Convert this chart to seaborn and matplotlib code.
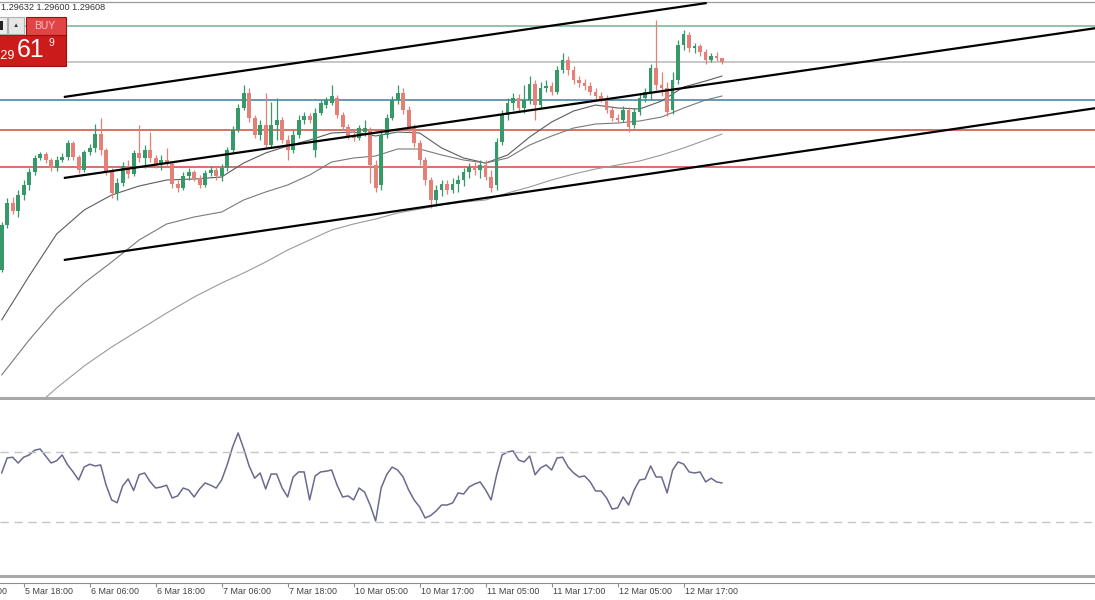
import numpy as np
import matplotlib
matplotlib.use("Agg")
import matplotlib.pyplot as plt
from matplotlib.patches import Rectangle
import seaborn as sns

# hourly GBPUSD-style bars, bar 0 = 5 Mar 14:00
opens = [1.28570, 1.28795, 1.28905, 1.28865, 1.28945, 1.28995, 1.29060, 1.29130, 1.29150, 1.29120,
         1.29080, 1.29120, 1.29135, 1.29205, 1.29135, 1.29070, 1.29160, 1.29180, 1.29250, 1.29170,
         1.29060, 1.28955, 1.29005, 1.29090, 1.29050, 1.29155, 1.29130, 1.29170, 1.29130, 1.29100,
         1.29120, 1.29100, 1.29000, 1.28980, 1.29040, 1.29060, 1.29030, 1.28995, 1.29055, 1.29070,
         1.29040, 1.29080, 1.29170, 1.29270, 1.29380, 1.29455, 1.29330, 1.29245, 1.29295, 1.29195,
         1.29295, 1.29320, 1.29220, 1.29170, 1.29245, 1.29320, 1.29340, 1.29170, 1.29355, 1.29395,
         1.29405, 1.29430, 1.29345, 1.29285, 1.29240, 1.29230, 1.29260, 1.29270, 1.29095, 1.28995,
         1.29245, 1.29330, 1.29420, 1.29455, 1.29370, 1.29280, 1.29205, 1.29120, 1.29020, 1.28920,
         1.28970, 1.29000, 1.28970, 1.29000, 1.29020, 1.29060, 1.29085, 1.29070, 1.29095, 1.29035,
         1.28995, 1.29210, 1.29345, 1.29405, 1.29430, 1.29380, 1.29420, 1.29500, 1.29395, 1.29480,
         1.29490, 1.29460, 1.29570, 1.29620, 1.29570, 1.29520, 1.29505, 1.29490, 1.29460, 1.29440,
         1.29425, 1.29370, 1.29330, 1.29320, 1.29370, 1.29295, 1.29360, 1.29430, 1.29460, 1.29580,
         1.29495, 1.29480, 1.29370, 1.29520, 1.29695, 1.29745, 1.29680, 1.29690, 1.29660, 1.29620,
         1.29640, 1.29630]
highs = [1.28810, 1.28930, 1.28935, 1.28970, 1.29020, 1.29080, 1.29145, 1.29160, 1.29160, 1.29130,
         1.29140, 1.29155, 1.29220, 1.29215, 1.29145, 1.29170, 1.29200, 1.29300, 1.29330, 1.29180,
         1.29080, 1.29030, 1.29110, 1.29120, 1.29170, 1.29295, 1.29195, 1.29260, 1.29145, 1.29145,
         1.29180, 1.29110, 1.29020, 1.29060, 1.29080, 1.29070, 1.29045, 1.29070, 1.29090, 1.29085,
         1.29100, 1.29185, 1.29290, 1.29400, 1.29495, 1.29480, 1.29345, 1.29320, 1.29455, 1.29410,
         1.29430, 1.29335, 1.29245, 1.29270, 1.29345, 1.29360, 1.29355, 1.29380, 1.29420, 1.29435,
         1.29495, 1.29445, 1.29360, 1.29300, 1.29270, 1.29295, 1.29320, 1.29285, 1.29120, 1.29270,
         1.29350, 1.29440, 1.29495, 1.29480, 1.29390, 1.29300, 1.29220, 1.29135, 1.29035, 1.28995,
         1.29020, 1.29020, 1.29030, 1.29045, 1.29080, 1.29105, 1.29110, 1.29120, 1.29120, 1.29070,
         1.29230, 1.29370, 1.29430, 1.29455, 1.29450, 1.29495, 1.29540, 1.29520, 1.29510, 1.29520,
         1.29510, 1.29590, 1.29655, 1.29640, 1.29590, 1.29540, 1.29525, 1.29510, 1.29480, 1.29460,
         1.29445, 1.29390, 1.29350, 1.29390, 1.29385, 1.29380, 1.29450, 1.29480, 1.29600, 1.29820,
         1.29560, 1.29510, 1.29560, 1.29720, 1.29770, 1.29760, 1.29705, 1.29700, 1.29675, 1.29655,
         1.29660, 1.29632]
lows = [1.28560, 1.28780, 1.28850, 1.28835, 1.28920, 1.28970, 1.29045, 1.29120, 1.29105, 1.29065,
        1.29065, 1.29110, 1.29120, 1.29120, 1.29055, 1.29060, 1.29145, 1.29160, 1.29145, 1.29045,
        1.28930, 1.28920, 1.28990, 1.29030, 1.29040, 1.29110, 1.29080, 1.29110, 1.29080, 1.29070,
        1.29085, 1.28980, 1.28960, 1.28970, 1.29020, 1.29015, 1.28980, 1.28985, 1.29040, 1.29020,
        1.29015, 1.29065, 1.29160, 1.29260, 1.29370, 1.29310, 1.29230, 1.29220, 1.29180, 1.29180,
        1.29220, 1.29205, 1.29120, 1.29155, 1.29230, 1.29300, 1.29305, 1.29135, 1.29345, 1.29380,
        1.29395, 1.29330, 1.29270, 1.29225, 1.29215, 1.29220, 1.29240, 1.29005, 1.28960, 1.28970,
        1.29230, 1.29320, 1.29400, 1.29350, 1.29260, 1.29185, 1.29095, 1.28995, 1.28880, 1.28890,
        1.28940, 1.28950, 1.28955, 1.28960, 1.28990, 1.29030, 1.29045, 1.29030, 1.29020, 1.28960,
        1.28970, 1.29195, 1.29320, 1.29370, 1.29360, 1.29355, 1.29400, 1.29320, 1.29380, 1.29460,
        1.29445, 1.29450, 1.29555, 1.29545, 1.29500, 1.29485, 1.29470, 1.29445, 1.29425, 1.29410,
        1.29355, 1.29315, 1.29305, 1.29310, 1.29260, 1.29280, 1.29345, 1.29410, 1.29420, 1.29470,
        1.29440, 1.29340, 1.29350, 1.29500, 1.29670, 1.29660, 1.29655, 1.29640, 1.29600, 1.29610,
        1.29615, 1.29600]
closes = [1.28795, 1.28905, 1.28865, 1.28945, 1.28995, 1.29060, 1.29130, 1.29150, 1.29120, 1.29080,
          1.29120, 1.29135, 1.29205, 1.29135, 1.29070, 1.29160, 1.29180, 1.29250, 1.29170, 1.29060,
          1.28955, 1.29005, 1.29090, 1.29050, 1.29155, 1.29130, 1.29170, 1.29130, 1.29100, 1.29120,
          1.29100, 1.29000, 1.28980, 1.29040, 1.29060, 1.29030, 1.28995, 1.29055, 1.29070, 1.29040,
          1.29080, 1.29170, 1.29270, 1.29380, 1.29455, 1.29330, 1.29245, 1.29295, 1.29195, 1.29295,
          1.29320, 1.29220, 1.29170, 1.29245, 1.29320, 1.29340, 1.29320, 1.29355, 1.29405, 1.29420,
          1.29440, 1.29345, 1.29285, 1.29240, 1.29230, 1.29280, 1.29280, 1.29095, 1.28980, 1.29245,
          1.29330, 1.29420, 1.29455, 1.29370, 1.29280, 1.29205, 1.29120, 1.29020, 1.28920, 1.28970,
          1.29000, 1.28970, 1.29000, 1.29020, 1.29060, 1.29085, 1.29070, 1.29095, 1.29035, 1.28980,
          1.29210, 1.29345, 1.29405, 1.29430, 1.29380, 1.29420, 1.29500, 1.29395, 1.29480, 1.29490,
          1.29460, 1.29570, 1.29620, 1.29570, 1.29520, 1.29505, 1.29490, 1.29460, 1.29440, 1.29425,
          1.29370, 1.29330, 1.29320, 1.29370, 1.29285, 1.29360, 1.29430, 1.29460, 1.29580, 1.29495,
          1.29480, 1.29360, 1.29520, 1.29695, 1.29750, 1.29680, 1.29690, 1.29660, 1.29620, 1.29640,
          1.29630, 1.29608]

# oscillator (RSI) per bar
rsi = [58, 66.6, 67, 63.7, 67, 68.3, 71, 71.7, 67.7, 63.7,
       65, 68.3, 62.6, 58.6, 54, 61.4, 63, 62, 62.6, 51,
       42.6, 41, 50.6, 54.6, 48, 57, 58, 53, 49.4, 50,
       51, 43.7, 44.9, 49.4, 48.3, 44.3, 48.9, 52.3, 51, 49.4,
       54, 62.6, 72.9, 80.9, 72, 62, 55, 58, 48.9, 57.4,
       57.4, 49.4, 44.3, 55.7, 58.6, 58.6, 42.6, 56.3, 58.6, 59,
       59.7, 51, 44.3, 44.9, 42.6, 49.4, 47, 39.7, 30.6, 49.4,
       57, 61.4, 59.7, 55.7, 48.3, 42.6, 38.6, 32.3, 33.7, 36.3,
       39.7, 39.7, 40.9, 46.6, 46, 50, 51.7, 52.9, 48.3, 42.6,
       57, 68.3, 70, 70.6, 65.4, 64.3, 67.7, 57, 60.9, 62.6,
       59.7, 66.6, 67, 61.4, 58, 55.7, 56.3, 53, 47.7, 47.7,
       43.7, 37.4, 38, 44.3, 39.7, 48.3, 54, 54.6, 62, 55.7,
       55.7, 46.6, 59.7, 64.3, 63.1, 58.6, 58, 58.6, 52.9, 55,
       52.9, 52.3]

# moving averages read at these bars
ma_idx = [0, 5, 10, 15, 20, 25, 30, 35, 40, 44, 48, 52, 56, 60, 64, 68,
          72, 76, 80, 84, 88, 92, 96, 100, 104, 108, 112, 116, 120, 124, 128, 131]
ma_fast = [1.28320, 1.28540, 1.28750, 1.28870, 1.28945, 1.28990, 1.29020, 1.29025,
           1.29035, 1.29105, 1.29155, 1.29190, 1.29220, 1.29255, 1.29260, 1.29240,
           1.29260, 1.29255, 1.29180, 1.29130, 1.29105, 1.29145, 1.29235, 1.29310,
           1.29365, 1.29395, 1.29380, 1.29375, 1.29415, 1.29485, 1.29515, 1.29540]
ma_mid = [1.28045, 1.28220, 1.28380, 1.28505, 1.28610, 1.28720, 1.28800, 1.28835,
          1.28860, 1.28920, 1.28960, 1.28995, 1.29045, 1.29110, 1.29130, 1.29140,
          1.29175, 1.29175, 1.29145, 1.29120, 1.29105, 1.29130, 1.29195, 1.29240,
          1.29280, 1.29300, 1.29305, 1.29315, 1.29335, 1.29380, 1.29420, 1.29440]
ma_slow = [1.27720, 1.27860, 1.27980, 1.28090, 1.28185, 1.28270, 1.28355, 1.28435,
           1.28505, 1.28555, 1.28610, 1.28670, 1.28720, 1.28770, 1.28800, 1.28825,
           1.28855, 1.28875, 1.28895, 1.28910, 1.28920, 1.28955, 1.28985, 1.29020,
           1.29050, 1.29075, 1.29095, 1.29115, 1.29145, 1.29180, 1.29220, 1.29250]

# horizontal levels and drawn channel lines
levels = [1.29790, 1.29608, 1.29420, 1.29270, 1.29085]
level_colors = ["#74b496", "#b8b8b8", "#3f7aa3", "#cf4a3e", "#cf4a3e"]
channel_x = [(11.3, 128.2), (11.3, 199.1), (11.3, 199.1)]
channel_y = [(1.29435, 1.29905), (1.29030, 1.29780), (1.28620, 1.29380)]

tick_bars = [-8, 4, 16, 28, 40, 52, 64, 76, 88, 100, 112, 124]
tick_labels = ["5 Mar 06:00", "5 Mar 18:00", "6 Mar 06:00", "6 Mar 18:00", "7 Mar 06:00",
               "7 Mar 18:00", "10 Mar 05:00", "10 Mar 17:00", "11 Mar 05:00",
               "11 Mar 17:00", "12 Mar 05:00", "12 Mar 17:00"]

sns.set_theme(style="white")
plt.rcParams["font.family"] = ["Liberation Sans", "DejaVu Sans"]

W, H = 1095, 600
fig = plt.figure(figsize=(W / 100, H / 100), dpi=100)
fig.patch.set_facecolor("white")

xlim = (-0.3, 198.8)
ax = fig.add_axes([0, (H - 398) / H, 1, 396 / H])
ax_r = fig.add_axes([0, 24 / H, 1, 176 / H], sharex=ax)
ax_t = fig.add_axes([0, 17 / H, 1, 4 / H], sharex=ax)

# price panel
o = np.array(opens)
c = np.array(closes)
idx = np.arange(len(o))
up = c >= o
cols = np.where(up, "#35996a", "#e48078")
ax.vlines(idx, lows, highs, colors=cols, lw=0.9, zorder=3)
ax.bar(idx, np.maximum(np.abs(c - o), 0.00003), bottom=np.minimum(o, c),
       width=0.68, color=cols, linewidth=0, zorder=4)

sns.lineplot(x=ma_idx, y=ma_fast, ax=ax, color="#5c5c5c", lw=0.8, zorder=2)
sns.lineplot(x=ma_idx, y=ma_mid, ax=ax, color="#7a7a7a", lw=0.8, zorder=2)
sns.lineplot(x=ma_idx, y=ma_slow, ax=ax, color="#9a9a9a", lw=0.8, zorder=2)

for lvl, col in zip(levels, level_colors):
    ax.axhline(lvl, color=col, lw=1.1, zorder=1)

for xs, ys in zip(channel_x, channel_y):
    ax.plot(xs, ys, color="black", lw=1.6, zorder=5, solid_capstyle="butt")

ax.set_xlim(*xlim)
ax.set_ylim(1.27930, 1.29910)
ax.set_xticks([])
ax.set_yticks([])
ax.set_xlabel("")
ax.set_ylabel("")
for s in ["left", "right"]:
    ax.spines[s].set_visible(False)
ax.spines["top"].set_color("#9a9a9a")
ax.spines["top"].set_linewidth(0.9)
ax.spines["bottom"].set_color("#a8a8a8")
ax.spines["bottom"].set_linewidth(2.2)

# oscillator panel
sns.lineplot(x=idx, y=rsi, ax=ax_r, color="#6a6a8e", lw=1.1)
for lvl in [70, 30]:
    ax_r.axhline(lvl, color="#c4c4cc", lw=1.0, dashes=(6, 4))
ax_r.set_ylim(-0.86, 99.7)
ax_r.set_yticks([])
ax_r.set_xlabel("")
ax_r.set_ylabel("")
ax_r.tick_params(axis="x", bottom=False, labelbottom=False)
for s in ["left", "right", "top"]:
    ax_r.spines[s].set_visible(False)
ax_r.spines["bottom"].set_color("#a8a8a8")
ax_r.spines["bottom"].set_linewidth(2.2)

# time axis
ax_t.set_facecolor("none")
ax_t.set_yticks([])
for s in ["left", "right", "top"]:
    ax_t.spines[s].set_visible(False)
ax_t.spines["bottom"].set_color("#8c8c8c")
ax_t.spines["bottom"].set_linewidth(0.8)
ax_t.set_xticks([b for b in tick_bars if b >= 0])
ax_t.tick_params(axis="x", bottom=True, direction="out", length=3, width=0.8,
                 color="#8c8c8c", labelbottom=False)
for b, lab in zip(tick_bars, tick_labels):
    ax_t.annotate(lab, xy=(b, 0), xycoords=("data", "axes fraction"),
                  xytext=(1, -6.3), textcoords="offset points", ha="left",
                  va="center", fontsize=6.4, color="#404040", annotation_clip=False)
ax_t.set_xlim(*xlim)

# trade panel overlay (pixel coordinates)
ov = fig.add_axes([0, 0, 1, 1], zorder=10)
ov.set_xlim(0, W)
ov.set_ylim(H, 0)
ov.axis("off")
ov.patch.set_alpha(0)
ov.text(1, 8, "1.29632 1.29600 1.29608", fontsize=6.6, color="#333333", va="center")
ov.add_patch(Rectangle((-2, 35), 68, 31, facecolor="#cc1b1b", edgecolor="#9e1010", lw=0.8))
ov.add_patch(Rectangle((26, 17), 40, 18, facecolor="#e04444", edgecolor="#9e1010", lw=0.8))
ov.add_patch(Rectangle((-2, 17), 9, 17, facecolor="#ececec", edgecolor="#b0b0b0", lw=0.8))
ov.add_patch(Rectangle((8, 17), 16, 17, facecolor="#e6e6e6", edgecolor="#b0b0b0", lw=0.8))
ov.add_patch(Rectangle((0, 21), 2.5, 9, facecolor="#222222", lw=0))
ov.text(16, 25.5, "▲", fontsize=4.5, color="#333333", ha="center", va="center")
ov.text(45, 26, "BUY", fontsize=7.5, color="#f6c4c4", ha="center", va="center")
ov.text(7, 56, ".29", fontsize=9, color="white", ha="center", va="center")
ov.text(31, 50, "61", fontsize=18, color="white", ha="center", va="center")
ov.text(51, 43, "9", fontsize=7.5, color="white", ha="center", va="center")

fig.savefig("out.png", dpi=100)
